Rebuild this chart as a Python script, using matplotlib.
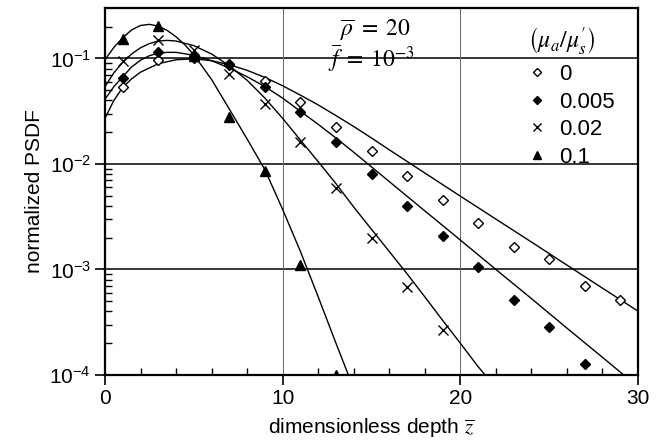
import matplotlib
matplotlib.use('Agg')
import matplotlib.pyplot as plt
from matplotlib.ticker import FixedLocator, NullFormatter

plt.rcParams['font.family'] = ['Liberation Sans', 'DejaVu Sans']
plt.rcParams['mathtext.fontset'] = 'stix'

# measured points (odd depths)
z_pts = [1, 3, 5, 7, 9, 11, 13, 15, 17, 19, 21, 23, 25, 27, 29]
psdf_0 = [0.0534, 0.096, 0.1, 0.086, 0.061, 0.039, 0.0226, 0.0133, 0.0076,
          0.0046, 0.00275, 0.00163, 0.00126, 0.0007, 0.00051]
psdf_005 = [0.0646, 0.116, 0.105, 0.088, 0.0536, 0.0312, 0.016, 0.0081, 0.00395,
            0.00209, 0.00105, 0.000514, 0.000287, 0.000126]
psdf_02 = [0.094, 0.149, 0.12, 0.0705, 0.0366, 0.016, 0.0059, 0.00198, 0.00068,
           0.000267]
psdf_1 = [0.154, 0.203, 0.105, 0.0278, 0.0085, 0.0011, 0.0001]

# theory curves
zc_0 = [0, 0.5, 1, 1.5, 2, 3, 4, 5, 6, 7, 8, 9, 10, 11, 12, 13, 14, 15, 16,
        18, 20, 22, 24, 26, 28, 30]
curve_0 = [0.027, 0.04, 0.053, 0.064, 0.074, 0.089, 0.097, 0.099, 0.095, 0.087,
           0.077, 0.066, 0.055, 0.0448, 0.0362, 0.0287, 0.0226, 0.0176, 0.0136,
           0.0082, 0.00495, 0.003, 0.00182, 0.0011, 0.000665, 0.000403]
zc_005 = [0, 0.5, 1, 1.5, 2, 2.5, 3, 3.5, 4, 5, 6, 7, 8, 9, 10, 11, 12, 13, 14,
          16, 18, 20, 22, 24, 26, 28, 29.2]
curve_005 = [0.041, 0.054, 0.067, 0.083, 0.096, 0.106, 0.112, 0.114, 0.114,
             0.107, 0.095, 0.081, 0.067, 0.054, 0.042, 0.0315, 0.0237, 0.0176,
             0.0129, 0.0068, 0.00359, 0.0019, 0.001, 0.00053, 0.000278,
             0.000147, 0.0001]
zc_02 = [0, 0.5, 1, 1.5, 2, 2.5, 3, 3.5, 4, 5, 6, 7, 8, 9, 10, 11, 12, 13, 14,
         15, 16, 17, 18, 19, 20, 21, 21.4]
curve_02 = [0.054, 0.073, 0.092, 0.11, 0.126, 0.138, 0.146, 0.148, 0.146, 0.132,
            0.11, 0.085, 0.062, 0.042, 0.027, 0.0168, 0.0105, 0.0065, 0.0039,
            0.0024, 0.00148, 0.00091, 0.00055, 0.00033, 0.0002, 0.00012, 0.0001]
zc_1 = [0, 0.5, 1, 1.5, 2, 2.5, 3, 3.5, 4, 4.5, 5, 6, 7, 8, 9, 10, 11, 12, 13,
        13.7]
curve_1 = [0.097, 0.127, 0.157, 0.186, 0.205, 0.21, 0.202, 0.184, 0.16, 0.134,
           0.108, 0.063, 0.033, 0.0172, 0.0088, 0.0037, 0.00148, 0.00055,
           0.0002, 0.0001]

ratios = ['0', '0.005', '0.02', '0.1']

fig = plt.figure(figsize=(6.62, 4.42), dpi=100)
ax = fig.add_axes([105 / 662, 1 - 375 / 442, 533 / 662, 367 / 442])

for zc, cv in [(zc_0, curve_0), (zc_005, curve_005), (zc_02, curve_02), (zc_1, curve_1)]:
    ax.plot(zc, cv, color='black', lw=1.0, zorder=3)

ax.plot(z_pts[:len(psdf_0)], psdf_0, ls='none', marker='D', ms=5.5, mfc='white',
        mec='black', mew=1.0, label=ratios[0], zorder=4)
ax.plot(z_pts[:len(psdf_005)], psdf_005, ls='none', marker='D', ms=5.5, mfc='black',
        mec='black', label=ratios[1], zorder=4)
ax.plot(z_pts[:len(psdf_02)], psdf_02, ls='none', marker='x', ms=7.5, mec='black',
        mew=1.0, label=ratios[2], zorder=4)
ax.plot(z_pts[:len(psdf_1)], psdf_1, ls='none', marker='^', ms=6.5, mfc='black',
        mec='black', label=ratios[3], zorder=4)

ax.set_yscale('log')
ax.set_xlim(0, 30)
ax.set_ylim(1e-4, 0.3)

# grid
for yv in [1e-3, 1e-2, 1e-1]:
    ax.axhline(yv, color='black', lw=1.1, zorder=1)
for xv in [10, 20]:
    ax.axvline(xv, color='#666666', lw=0.7, zorder=1)

ax.set_xticks([0, 10, 20, 30])
ax.xaxis.set_minor_locator(FixedLocator([v for v in range(2, 30, 2) if v % 10]))
ax.set_yticks([1e-4, 1e-3, 1e-2, 1e-1])
ax.set_yticklabels([r'$\mathregular{10^{-4}}$', r'$\mathregular{10^{-3}}$',
                    r'$\mathregular{10^{-2}}$', r'$\mathregular{10^{-1}}$'])
ax.yaxis.set_minor_locator(FixedLocator([m * 10.0 ** e for e in range(-4, 0)
                                         for m in range(2, 10) if m * 10.0 ** e < 0.3]))
ax.yaxis.set_minor_formatter(NullFormatter())
ax.tick_params(which='major', direction='out', length=7, width=1.2, labelsize=15, pad=3)
ax.tick_params(which='minor', direction='in', length=5, width=1.0)
for s in ax.spines.values():
    s.set_linewidth(1.6)

ax.set_xlabel(r'dimensionless depth $\overline{z}$', fontsize=15, labelpad=6)
ax.set_ylabel('normalized PSDF', fontsize=15, labelpad=4)

ax.text(0.441, 0.94, r'$\overline{\rho}\;=\;20$', transform=ax.transAxes,
        fontsize=17, va='center', ha='left')
ax.text(0.418, 0.862, r'$\overline{f}\;=\;10^{-3}$', transform=ax.transAxes,
        fontsize=17, va='center', ha='left')

leg = ax.legend(loc='upper left', bbox_to_anchor=(0.765, 0.995), frameon=False,
                title=r'$\left(\mu_a/\mu_s^{\prime}\right)$', title_fontsize=17,
                fontsize=16, markerscale=0.8, handlelength=0.8, handletextpad=0.6,
                labelspacing=0.3, borderpad=0.2)
leg._legend_box.align = 'left'

fig.savefig('out.png', dpi=100)
